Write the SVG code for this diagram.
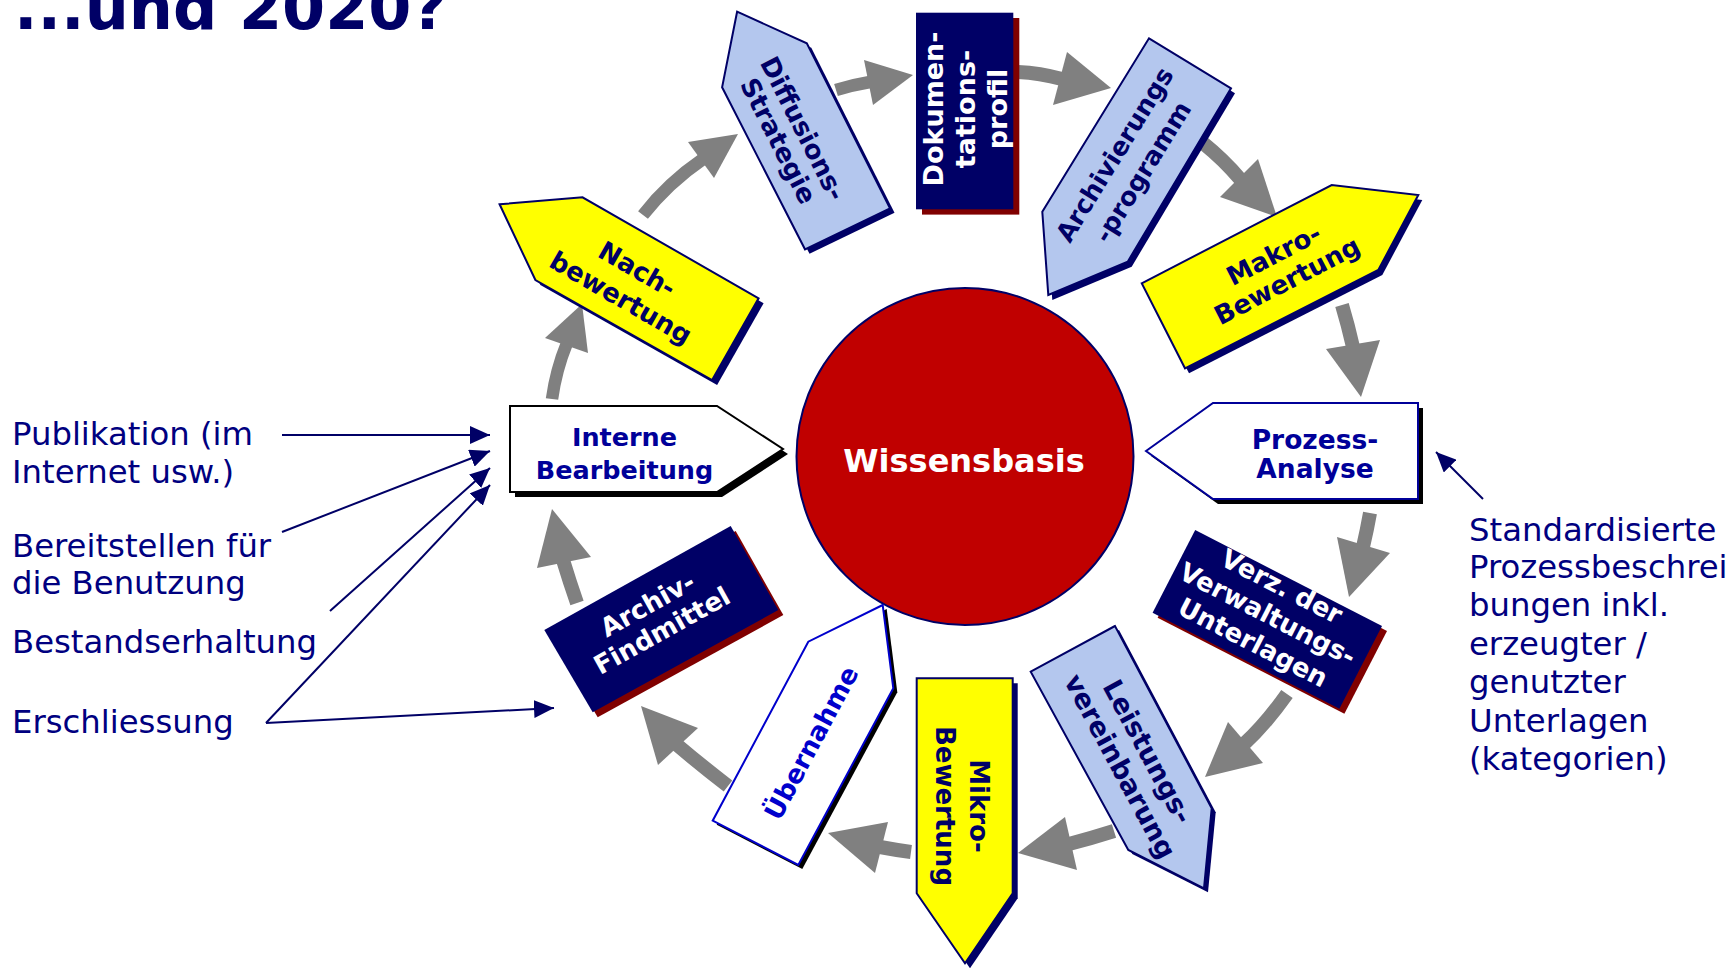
<svg xmlns="http://www.w3.org/2000/svg" width="1731" height="969" viewBox="0 0 1731 969">
<defs>
<style>
  text{font-family:"DejaVu Sans",Verdana,sans-serif}
  .title{font-size:62px;font-weight:bold;fill:#000066}
  .lbl{font-size:32.3px;fill:#000080}
  .nt{font-size:26px;font-weight:bold;text-anchor:middle}
  .navy{fill:#000066}
  .white{fill:#ffffff}
  .blue{fill:#000099}
  .ublue{fill:#0000cc}
  .yel{fill:#ffff00;stroke:#000066;stroke-width:2}
  .lb{fill:#b4c7ee;stroke:#000066;stroke-width:2}
  .box-navy{fill:#000066}
  .sh-navy{fill:#000066}
  .sh-red{fill:#800000}
  .sh-black{fill:#000000}
  .shaft{fill:none;stroke:#808080;stroke-width:14}
  .shaft-s{fill:none;stroke:#808080;stroke-width:12.5}
  .head{fill:#808080}
  .thin{fill:none;stroke:#000066;stroke-width:2;marker-end:url(#tip)}
</style>
<marker id="tip" markerUnits="userSpaceOnUse" markerWidth="20" markerHeight="18" refX="20" refY="9" orient="auto" viewBox="0 0 20 18">
  <path d="M0,0 L20,9 L0,18 z" fill="#000066"/>
</marker>
</defs>

<rect width="1731" height="969" fill="#ffffff"/>

<!-- heading -->
<text class="title" x="14" y="29">...und 2020?</text>

<!-- side annotations -->
<g id="labels-left">
  <text class="lbl" x="12" y="445">Publikation (im</text>
  <text class="lbl" x="12" y="483">Internet usw.)</text>
  <text class="lbl" x="12" y="557">Bereitstellen für</text>
  <text class="lbl" x="12" y="594">die Benutzung</text>
  <text class="lbl" x="12" y="653">Bestandserhaltung</text>
  <text class="lbl" x="12" y="733">Erschliessung</text>
</g>
<g id="labels-right">
  <text class="lbl" x="1469" y="541">Standardisierte</text>
  <text class="lbl" x="1469" y="578">Prozessbeschrei</text>
  <text class="lbl" x="1469" y="616">bungen inkl.</text>
  <text class="lbl" x="1469" y="655">erzeugter /</text>
  <text class="lbl" x="1469" y="693">genutzter</text>
  <text class="lbl" x="1469" y="732">Unterlagen</text>
  <text class="lbl" x="1469" y="770">(kategorien)</text>
</g>

<!-- central knowledge base -->
<g id="node-wissensbasis">
  <circle cx="965" cy="456.5" r="168.5" fill="#c00000" stroke="#000066" stroke-width="2"/>
  <text x="964" y="472" font-size="32" font-weight="bold" fill="#ffffff" text-anchor="middle">Wissensbasis</text>
</g>

<!-- connectors -->
<g id="connectors">
  <g id="cycle">
    <path class="shaft-s" d="M552,399 Q556,370 567,343"/>
    <polygon class="head" points="545,338 588,353 582,304"/>
    <path class="shaft-s" d="M643,215 Q668,183 703,159"/>
    <polygon class="head" points="688,142 714,178 738,134"/>
    <path class="shaft-s" d="M836,90 Q852,85 870,82"/>
    <polygon class="head" points="864,60 873,105 913,75"/>
    <path class="shaft" d="M1018,72 Q1040,73 1062,79"/>
    <polygon class="head" points="1067,52 1053,105 1111,88"/>
    <path class="shaft" d="M1203,143 Q1224,160 1240,179"/>
    <polygon class="head" points="1220,197 1258,159 1277,217"/>
    <path class="shaft" d="M1342,305 Q1348,325 1353,347"/>
    <polygon class="head" points="1326,349 1380,340 1361,397"/>
    <path class="shaft" d="M1370,513 Q1367,530 1363,547"/>
    <polygon class="head" points="1337,537 1390,553 1349,597"/>
    <path class="shaft" d="M1287,694 Q1265,725 1244,744"/>
    <polygon class="head" points="1228,722 1263,763 1205,777"/>
    <path class="shaft" d="M1114,831 Q1092,838 1069,844"/>
    <polygon class="head" points="1065,817 1077,870 1018,853"/>
    <path class="shaft" d="M911,852 Q896,850 880,847"/>
    <polygon class="head" points="888,822 875,873 828,833"/>
    <path class="shaft" d="M728,786 Q702,766 676,744"/>
    <polygon class="head" points="658,765 698,728 641,706"/>
    <path class="shaft" d="M577,603 Q570,583 563,560"/>
    <polygon class="head" points="537,568 591,557 552,509"/>
  </g>
  <g id="annotation-arrows">
    <line class="thin" x1="282" y1="435" x2="490" y2="435"/>
    <line class="thin" x1="282" y1="532" x2="490" y2="451"/>
    <line class="thin" x1="330" y1="611" x2="490" y2="468"/>
    <line class="thin" x1="266" y1="723" x2="490" y2="485"/>
    <line class="thin" x1="266" y1="723" x2="554" y2="708"/>
    <line class="thin" x1="1483" y1="499" x2="1436" y2="452"/>
  </g>
</g>

<!-- process steps -->
<g id="node-interne-bearbeitung">
  <polygon class="sh-black" transform="translate(5,5)" points="510,406 717,406 783,449 717,492 510,492"/>
  <polygon points="510,406 717,406 783,449 717,492 510,492" fill="#ffffff" stroke="#000000" stroke-width="2"/>
  <text class="nt blue" x="624.5" y="446" style="font-size:25.5px">Interne</text>
  <text class="nt blue" x="624.5" y="479" style="font-size:25.5px">Bearbeitung</text>
</g>

<g id="node-nachbewertung">
  <polygon class="sh-navy" transform="translate(5,5)" points="499.6,204.3 582.5,197.3 758.6,298.3 712.1,380 535.4,280"/>
  <polygon class="yel" points="499.6,204.3 582.5,197.3 758.6,298.3 712.1,380 535.4,280"/>
  <text class="nt navy" transform="translate(628.8,284) rotate(29.9)"><tspan x="0" y="-8">Nach-</tspan><tspan x="0" y="25">bewertung</tspan></text>
</g>

<g id="node-diffusionsstrategie">
  <polygon class="sh-navy" transform="translate(4.5,4.5)" points="737.1,11.7 806.8,43.3 890,208.3 805,249.3 722.1,87.3"/>
  <polygon class="lb" points="737.1,11.7 806.8,43.3 890,208.3 805,249.3 722.1,87.3"/>
  <text class="nt navy" transform="translate(790.5,134.8) rotate(63.2)"><tspan x="0" y="-5">Diffusions-</tspan><tspan x="0" y="22.5">Strategie</tspan></text>
</g>

<g id="node-dokumentationsprofil">
  <rect class="sh-red" x="922" y="18" width="97.3" height="196.6"/>
  <rect class="box-navy" x="916" y="12.7" width="97.3" height="196.6"/>
  <text class="nt white" transform="translate(965,109) rotate(-90)" style="font-size:27px"><tspan x="0" y="-22">Dokumen-</tspan><tspan x="0" y="10">tations-</tspan><tspan x="0" y="42">profil</tspan></text>
</g>

<g id="node-archivierungsprogramm">
  <polygon class="sh-navy" transform="translate(4,5)" points="1149,38.3 1231,88.3 1127.7,261.7 1048.3,295 1042.3,211.7"/>
  <polygon class="lb" points="1149,38.3 1231,88.3 1127.7,261.7 1048.3,295 1042.3,211.7"/>
  <text class="nt navy" transform="translate(1131.5,165) rotate(-58.4)" style="font-size:25.5px"><tspan x="0" y="-11">Archivierungs</tspan><tspan x="0" y="22">-programm</tspan></text>
</g>

<g id="node-makrobewertung">
  <polygon class="sh-navy" transform="translate(4,5)" points="1141.7,283.3 1331.7,185 1418.3,195 1378.3,270 1185,368.3"/>
  <polygon class="yel" points="1141.7,283.3 1331.7,185 1418.3,195 1378.3,270 1185,368.3"/>
  <text class="nt navy" transform="translate(1280.8,268.3) rotate(-27.4)"><tspan x="0" y="-6.4">Makro-</tspan><tspan x="0" y="23">Bewertung</tspan></text>
</g>

<g id="node-prozessanalyse">
  <polygon class="sh-black" transform="translate(5,5)" points="1146,451 1213,403 1418,403 1418,499 1213,499"/>
  <polygon points="1146,451 1213,403 1418,403 1418,499 1213,499" fill="#ffffff" stroke="#000099" stroke-width="2"/>
  <text class="nt blue" x="1315" y="449" style="font-size:26.5px">Prozess-</text>
  <text class="nt blue" x="1315" y="478" style="font-size:26.5px">Analyse</text>
</g>

<g id="node-verzeichnis">
  <polygon class="sh-red" transform="translate(5,5)" points="1195.2,530 1382,626 1339.4,708.8 1152.6,612.8"/>
  <polygon class="box-navy" points="1195.2,530 1382,626 1339.4,708.8 1152.6,612.8"/>
  <text class="nt white" transform="translate(1266.7,615.8) rotate(27.2)"><tspan x="0" y="-24">Verz. der</tspan><tspan x="0" y="7">Verwaltungs-</tspan><tspan x="0" y="39">Unterlagen</tspan></text>
</g>

<g id="node-leistungsvereinbarung">
  <polygon class="sh-navy" transform="translate(4,4)" points="1115,626 1030.7,671.7 1128.3,850 1204,888.3 1211.7,808.3"/>
  <polygon class="lb" points="1115,626 1030.7,671.7 1128.3,850 1204,888.3 1211.7,808.3"/>
  <text class="nt navy" transform="translate(1131.7,760.3) rotate(61.7)" style="font-size:27px"><tspan x="0" y="-9">Leistungs-</tspan><tspan x="0" y="22.5">vereinbarung</tspan></text>
</g>

<g id="node-mikrobewertung">
  <polygon class="sh-navy" transform="translate(5,5)" points="916.7,678.3 1012.7,678.3 1012.7,893.3 965,963.3 916.7,893.3"/>
  <polygon class="yel" points="916.7,678.3 1012.7,678.3 1012.7,893.3 965,963.3 916.7,893.3"/>
  <text class="nt navy" transform="translate(965,806) rotate(90)"><tspan x="0" y="-5">Mikro-</tspan><tspan x="0" y="29">Bewertung</tspan></text>
</g>

<g id="node-uebernahme">
  <polygon class="sh-black" transform="translate(4,4)" points="882.7,605 808.3,641.7 712.7,820.7 798.3,865 893.3,688.3"/>
  <polygon points="882.7,605 808.3,641.7 712.7,820.7 798.3,865 893.3,688.3" fill="#ffffff" stroke="#0000cc" stroke-width="2"/>
  <text class="nt ublue" transform="translate(809.7,742) rotate(-61.9)" x="0" y="11">Übernahme</text>
</g>

<g id="node-archiv-findmittel">
  <polygon class="sh-red" transform="translate(5,5)" points="730.7,526 778.3,610 592.7,712.3 544.3,630"/>
  <polygon class="box-navy" points="730.7,526 778.3,610 592.7,712.3 544.3,630"/>
  <text class="nt white" transform="translate(654.3,616.9) rotate(-29.1)"><tspan x="0" y="-5">Archiv-</tspan><tspan x="0" y="24.7">Findmittel</tspan></text>
</g>
</svg>
